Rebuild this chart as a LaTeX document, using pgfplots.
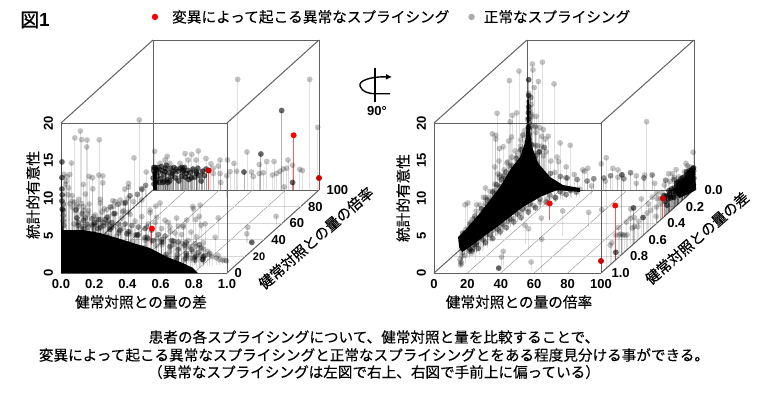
\documentclass[border=0pt]{standalone}
\usepackage{fontspec}
\usepackage{pgfplots}
\usepackage{pgfplotstable}
\usetikzlibrary{arrows.meta}
\pgfplotsset{compat=1.18}
\setmainfont{Liberation Sans}
\newfontfamily\cjk[FakeBold=0.25]{Noto Sans CJK JP}
\newfontfamily\cjkb[FakeBold=1.2]{Noto Sans CJK JP}
\pgfplotstableread{
d r z
.51 100 14.75
.944 100 14.75
.992 100 8.35
.566 100 5.07
.685 100 3.8
.729 100 3.8
.813 100 4.0
.841 100 3.3
.884 100 2.75
.805 100 2.9
.785 100 2.8
.765 100 2.5
.745 100 2.2
.72 100 2.0
.665 100 2.3
.64 100 2.2
.64 100 3.4
.594 100 2.4
.604 100 1.8
.504 100 2.5
.488 100 3.55
.464 100 2.45
.448 100 4.0
.404 100 4
.394 100 3.2
.404 100 2.2
.408 100 1.0
.363 100 2.9
.319 100 4.2
.349 100 3.5
.363 100 2.2
.273 100 5.2
.233 100 4.75
.193 100 4.85
.259 100 4
.213 100 4
.01 100 5.15
.086 100 4.5
.072 100 4
.102 100 3.55
.163 100 3.55
.042 100 3.55
.293 100 2.45
.243 100 2.6
.219 100 1.8
.9 100 2.6
.405 12 19.07
.05 12 17.6
.05 6 17.35
.14 3 17.4
.03 6 14
.05 19 14.7
.147 15 16.1
.08 8 16.9
.412 5 14.8
.2 5 12.5
.23 4 12.5
.235 3 11.7
.39 3 11.6
.39 3 11.1
.22 3 9.5
.31 3 9.2
.4 3 7.5
.27 3 6.6
.355 3 7.8
.72 3 6
.69 3 5.9
.5 3 5.8
.63 5 5
.04 15 7.6
.04 11 7.6
.02 21 6.5
.02 27 6.2
.0 18 4.4
.01 37 3.0
.01 34 2.8
.01 52 3.0
.01 55 2.8
.01 45 3.6
.01 66 2
.01 71 2.1
.01 77 1
.01 66 1
.99 64 4.4
.98 57 1.25
.92 36 1.25
.92 37 2
.72 41 2.8
.65 35 2.5
.6 42 2.9
.55 52 3.3
.45 62 2
.5 90 3
.47 12 7.07
.505 12 7.6
.56 12 5.7
.72 14 7
.735 14 5.6
.68 14 5.5
.785 15 4.9
.84 16 3
.7 15 3.8
.34 8 10.3
.44 8 10.4
.48 6 12.8
.125 8 12
.135 10 11.6
.08 10 10.7
.018 3 12.5
.03 4 12.7
.29 12 8.4
.245 12 8.3
.23 12 7.5
.21 12 7.1
.32 12 8.1
.17 12 8
.125 12 9.9
.08 12 9.2
.04 12 8.5
.42 12 8.4
.53 12 8
.47 12 6.7
.51 12 6.1
.63 12 6
.67 12 4.8
.59 12 4.8
.75 12 3.5
.79 12 2.7
.83 12 1.3
.88 12 1.0
.85 8 1.6
.84 8 2.0
.82 7 2.4
.80 7 2.6
.80 8 1.5
.78 6 2.9
.76 6 2.2
.75 5 3.0
.74 7 1.2
.72 5 2.9
.70 5 3.4
.70 7 1.0
.68 5 2.8
.66 4 3.4
.65 8 .8
.64 4 3.2
.62 6 2.2
.60 3 3.8
.60 9 .7
.58 5 3.2
.56 3 4.2
.55 10 .7
.54 6 3
.52 4 3.9
.50 3 4.5
.50 12 .6
.48 5 3.8
.46 7 2.6
.45 3 4.8
.44 13 .7
.42 4 4.6
.40 3 5.2
.40 6 3.5
.40 14 .6
.38 5 4.6
.36 8 3
.35 3 5.6
.34 15 .7
.32 4 5.4
.30 6 4.2
.30 3 6
.30 17 .8
.28 9 2.8
.26 4 6
.25 18 .7
.24 7 4
.22 3 6.8
.22 20 .8
.20 5 5.8
.20 10 3
.18 3 7.2
.18 22 .8
.16 6 5.6
.15 12 3
.15 25 .7
.14 4 7.4
.12 3 8
.12 8 5.2
.12 28 .9
.10 5 7.4
.10 16 2.8
.10 32 1
.08 3 8.8
.08 10 4.8
.08 36 1
.06 4 9
.06 20 3
.06 42 1.2
.05 3 10
.05 8 6.5
.05 26 2.2
.04 5 9
.04 12 5
.03 3 11
.03 7 8
.03 16 4.2
.03 30 2.4
.02 2 12
.02 4 10
.02 6 8.6
.02 20 4
.02 48 1.4
.01 1.5 13
.01 3 11.5
.01 12 5.2
.01 24 3.2
.01 35 2.6
.01 55 1.8
.90 10 .7
.91 11 .5
.92 12 .4
.93 12 .3
.88 10 .9
.86 9 1.2
.02 12 7
.06 12 6.5
.1 12 7
.14 12 6.4
.18 12 6.8
.22 12 6.2
.26 12 6.6
.3 12 6
.34 12 6.8
.38 12 5.6
.42 12 6.2
.46 12 5.2
.5 12 5.4
.54 12 4.6
.58 12 5.4
.62 12 4
.66 12 3.8
.7 12 3
.74 12 2.6
.78 12 2
}\cloud
\pgfplotstableread{
d r z
.80 10.4 1
.79 11 .6
.75 11.2 1
.74 12 .4
.69 12.1 1
.68 13 .5
.63 12.9 1
.62 14 .4
.56 13.2 1
.55 14.6 .5
.5 13.5 1
.49 15 .4
.44 14.4 1
.43 16 .5
.38 15.2 1
.37 17 .4
.32 15.4 1
.31 18 .5
.26 16.3 1
.25 19 .4
.2 18.9 1
.19 22 .5
.15 22 1
.14 25 .5
.11 25.9 1
.10 29 .5
.09 30.8 1
.08 34 .6
.8 6 3.1
.72 6 3.4
.65 5 3.7
.58 5 3.9
.5 4 4.2
.44 4 4.6
.38 3 4.9
.33 3 5
.28 3 5.5
.22 3 5.7
.17 3 6.1
.12 3 6.7
.08 2 8.2
.0 3 6
.0 6 3.5
.0 14 2.2
.0 20 1.8
.0 24 1.6
.0 30 1.4
.0 36 1.2
.0 40 1.5
.0 46 1.6
.0 50 1.9
.0 58 1.5
.0 62 2.3
.0 70 1.6
.0 75 2
.0 83 1.3
.0 88 1.4
.0 92 1.5
.05 10 5.6
.1 10 5.4
.15 10 5.6
.2 10 5.2
.25 10 5
.3 10 4.6
.35 10 4.4
.4 10 4
.45 10 3.6
.5 10 3.2
.55 10 3
.6 10 2.4
.65 10 2
.7 10 1.5
.75 10 1
.8 10 .7
.005 1.5 7.5
.005 1.5 6.8
.005 1.5 9
.005 1.5 8.2
.03 12 6
.08 12 6
.12 12 5.9
.16 12 5.8
.2 12 5.8
.24 12 5.4
.28 12 5.2
.32 12 5.2
.36 12 5
.4 12 4.8
.44 12 4.6
.48 12 4.4
.52 12 3.8
.56 12 3.6
.6 12 3
.64 12 2.8
.68 12 2.4
.72 12 1.8
.76 12 1.4
.8 12 1
}\fuzz
\pgfplotstableread{
d r z
.95 36 .1
.0 1 14.7
.0 1 12.6
.0 1 11.1
.0 1 9.5
.002 1 10.3
.002 1 8.4
.775 100 10.6
.65 100 4.8
.841 100 1.0
.548 100 2.4
.002 100 1.6
.004 100 2.6
.006 100 .8
.01 100 2.2
.015 100 1.2
.02 100 2.8
.028 100 1.8
.035 100 2.4
.045 100 1.5
.055 100 2.6
.065 100 2.0
.075 100 2.9
.085 100 1.4
.095 100 2.3
.105 100 2.9
.12 100 2.2
.135 100 1.6
.15 100 2.5
.165 100 2.9
.18 100 2.4
.195 100 1.7
.21 100 2.6
.225 100 2.3
.24 100 2.8
.26 100 2.4
.28 100 1.9
.30 100 2.5
.122 100 2.45
.072 100 2.45
.022 100 2.65
.183 100 2.65
.263 100 2.2
.005 100 3
.012 100 3
.02 100 1
.03 100 3
.04 100 1
.05 100 3.1
.06 100 1
.07 100 1.2
.08 100 3.3
.09 100 1
.10 100 1.2
.11 100 1.8
.125 100 3
.14 100 2.8
.155 100 1.2
.17 100 1.8
.175 100 3
.19 100 3
.2 100 2.2
.215 100 1.4
.23 100 1.6
.25 100 1.7
.27 100 2.9
.29 100 1.2
.31 100 1.9
.32 100 2.8
}\darkpts
\pgfplotstableread{
d r z
.847 100 7.3
.361 33.7 2.2
}\redA
\pgfplotstableread{
d r z
1.0 100 1.6
.335 100 2.6
}\redB
\pgfplotsset{
  panel/.style={
    clip=false, 3d box=complete, axis line style={draw=black!62,line width=1pt},
    major tick length=0pt, xmin=0,xmax=1,
    zmin=0,zmax=20, ztick={0,5,10,15,20}, zticklabels={0,5,10,15,20},
    z={(0pt,7.5pt)},
    tick label style={font=\fontsize{13}{13}\selectfont\bfseries},
    z tick label style={rotate=90,anchor=south,yshift=4.5pt,xshift=0pt},
    x tick label style={anchor=north,yshift=-3pt},
    xticklabel pos=lower, zticklabel pos=left,
    label style={font=\fontsize{14.65}{15}\selectfont\cjk},
    grid=none,
  },
  gridA/.style={forget plot,no marks,draw=black!38,line width=.5pt},
  gridB/.style={forget plot,no marks,draw=black!16,line width=1pt},
  gray pts/.style={forget plot,only marks,mark=*,mark size=2.9pt,
    mark options={draw opacity=0,fill=black,fill opacity=.24},
    error bars/.cd,z dir=minus,z explicit,error mark=none,
    error bar style={black,opacity=.12,line width=.9pt}},
  fuzz pts/.style={forget plot,only marks,mark=*,mark size=2.9pt,
    mark options={draw opacity=0,fill=black,fill opacity=.42},
    error bars/.cd,z dir=minus,z explicit,error mark=none,
    error bar style={black,opacity=.2,line width=.9pt}},
  dark pts/.style={forget plot,only marks,mark=*,mark size=2.9pt,
    mark options={draw opacity=0,fill=black,fill opacity=.6},
    error bars/.cd,z dir=minus,z explicit,error mark=none,
    error bar style={black,opacity=.3,line width=.9pt}},
  red pts/.style={forget plot,only marks,mark=*,mark size=3pt,
    mark options={draw opacity=0,fill=#1}},
  red stem/.style={forget plot,no marks,draw=red,draw opacity=.65,line width=1pt},
}
\begin{document}
\begin{tikzpicture}[x=1pt,y=1pt]
\path[use as bounding box,fill=white] (0,0) rectangle (774,392);
% left panel
\begin{axis}[panel,at={(61pt,119pt)},anchor=south west,
  x={(166pt,0pt)},y={(.92pt,.83pt)},ymin=0,ymax=100,
  xtick={0,.2,.4,.6,.8,1},xticklabels={0.0,0.2,0.4,0.6,0.8,1.0},
  ytick={0,20,40,60,80,100},yticklabels={0,{\fontsize{11}{11}\selectfont 20},40,60,80,100},
  y tick label style={anchor=west,xshift=4pt},
  xlabel={健常対照との量の差},ylabel={健常対照との量の倍率},zlabel={統計的有意性},
  xlabel style={at={(axis description cs:.31,-.1245)},anchor=center,rotate=0},
  ylabel style={at={(axis description cs:.988,.15)},anchor=center,rotate=41},
  zlabel style={at={(axis description cs:-.1085,.335)},anchor=center,rotate=0},
  legend columns=2,
  legend style={draw=none,fill=none,font=\fontsize{14.65}{15}\selectfont\cjk,
    at={(axis description cs:1.283,1.099)},anchor=center,
    /tikz/column 1/.style={column sep=12pt},/tikz/column 2/.style={column sep=17pt},/tikz/column 3/.style={column sep=7pt}},
]
\addplot3[gridA] coordinates {(.2,0,0)(.2,100,0)};
\addplot3[gridA] coordinates {(.4,0,0)(.4,100,0)};
\addplot3[gridA] coordinates {(.6,0,0)(.6,100,0)};
\addplot3[gridA] coordinates {(.8,0,0)(.8,100,0)};
\addplot3[gridB] coordinates {(0,20,0)(1,20,0)};
\addplot3[gridB] coordinates {(0,40,0)(1,40,0)};
\addplot3[gridB] coordinates {(0,60,0)(1,60,0)};
\addplot3[gridB] coordinates {(0,80,0)(1,80,0)};
\addplot3[gray pts] table[x=d,y=r,z=z,z error=z]{\cloud};
\addplot3[fuzz pts] table[x=d,y=r,z=z,z error=z]{\fuzz};
\addplot3[dark pts] table[x=d,y=r,z=z,z error=z]{\darkpts};
\addplot3[forget plot,no marks,draw=none,fill=black] coordinates {
(0,0,0)(0,0,7.47)(.012,0,5.73)(.133,0,5.73)(.235,0,5.33)(.337,0,4.67)(.434,0,4.0)(.536,0,3.33)(.639,0,2.13)(.735,0,1.33)(.795,0,.67)(.825,0,0)};
\addplot3[forget plot,no marks,draw=none,fill=black] coordinates {
(0,100,0)(0,100,2.4)(.02,100,2.4)(.025,100,0)};
\addplot3[red stem] coordinates {(.847,100,0)(.847,100,7.3)};
\addplot3[red stem] coordinates {(.361,33.7,0)(.361,33.7,2.2)};
\addplot3[red stem] coordinates {(1.0,100,0)(1.0,100,1.6)};
\addplot3[red stem] coordinates {(.335,100,0)(.335,100,2.6)};
\addplot3[red pts=red] table[x=d,y=r,z=z]{\redA};
\addplot3[red pts={red!80!black}] table[x=d,y=r,z=z]{\redB};
\addlegendimage{only marks,mark=*,mark size=3.2pt,red,mark options={draw opacity=0,fill=red}}
\addlegendentry{変異によって起こる異常なスプライシング}
\addlegendimage{only marks,mark=*,mark size=3.2pt,mark options={draw opacity=0,fill=black!33}}
\addlegendentry{正常なスプライシング}
\end{axis}
% right panel
\begin{axis}[panel,at={(434pt,119pt)},anchor=south west,
  x={(1.67pt,0pt)},y={(93pt,83pt)},xmin=0,xmax=100,ymin=0,ymax=1,
  xtick={0,20,40,60,80,100},xticklabels={0,20,40,60,80,100},
  ytick={0,.2,.4,.6,.8,1},yticklabels={1.0,0.8,0.6,0.4,0.2,0.0},
  y tick label style={anchor=west,xshift=7pt},
  xlabel={健常対照との量の倍率},ylabel={健常対照との量の差},zlabel={統計的有意性},
  xlabel style={at={(axis description cs:.327,-.1245)},anchor=center,rotate=0},
  ylabel style={at={(axis description cs:1.0115,.15)},anchor=center,rotate=41},
  zlabel style={at={(axis description cs:-.119,.322)},anchor=center,rotate=0},
]
\addplot3[gridA] coordinates {(20,0,0)(20,1,0)};
\addplot3[gridA] coordinates {(40,0,0)(40,1,0)};
\addplot3[gridA] coordinates {(60,0,0)(60,1,0)};
\addplot3[gridA] coordinates {(80,0,0)(80,1,0)};
\addplot3[gridB] coordinates {(0,.2,0)(100,.2,0)};
\addplot3[gridB] coordinates {(0,.4,0)(100,.4,0)};
\addplot3[gridB] coordinates {(0,.6,0)(100,.6,0)};
\addplot3[gridB] coordinates {(0,.8,0)(100,.8,0)};
\addplot3[gray pts] table[x=r,y expr=1-\thisrow{d},z=z,z error=z]{\cloud};
\addplot3[fuzz pts] table[x=r,y expr=1-\thisrow{d},z=z,z error=z]{\fuzz};
\addplot3[dark pts] table[x=r,y expr=1-\thisrow{d},z=z,z error=z]{\darkpts};
\addplot3[forget plot,no marks,draw=none,fill=black] coordinates {
(15,0,3.47)(14.4,0,4.8)(19.8,0,6)(27.5,0,8)(33.5,0,9.73)(39.5,0,11.47)(45.5,0,13.73)(51.5,0,15.47)(54.5,0,17.33)(55.7,0,20)(55.7,0,23.07)(56.9,0,23.07)(56.9,0,20)(58.7,0,16.8)(62.3,0,14.67)(69.5,0,12.8)(77.2,0,11.73)(87.4,0,11.33)(87.4,0,10.8)(73.7,0,11.07)(63.5,0,10.13)(53.3,0,8.8)(45.5,0,7.47)(37.7,0,6.13)(29.3,0,4.8)(21.6,0,3.47)(16.8,0,2.8)};
\addplot3[forget plot,no marks,draw=none,fill=black] coordinates {
(143,0,11.07)(149,0,12.4)(152,0,13.7)(156,0,14.1)(157,0,11.07)(147,0,10)};
\addplot3[red stem] coordinates {(100,.153,0)(100,.153,7.3)};
\addplot3[red stem] coordinates {(33.7,.639,0)(33.7,.639,2.2)};
\addplot3[red stem] coordinates {(100,.665,0)(100,.665,2.6)};
\addplot3[red pts=red] table[x=r,y expr=1-\thisrow{d},z=z]{\redA};
\addplot3[red pts={red!80!black}] table[x=r,y expr=1-\thisrow{d},z=z]{\redB};
\end{axis}
% title, rotation glyph, caption
\node[anchor=west,inner sep=0pt] at (20,372) {\fontsize{19}{19}\selectfont\cjkb 図\fontspec{Liberation Sans}\bfseries 1};
\draw[line width=1.4pt] (375,324) -- (375,290);
\draw[line width=1.4pt,-{Latex[length=6pt,width=6pt]}] (390,298.3) -- (375,298.3) .. controls (362,298.3) and (359,306) .. (360,308) .. controls (362,313) and (375,315.5) .. (392,315);
\node[inner sep=0pt] at (377,281) {\fontsize{13}{13}\selectfont\bfseries 90\textdegree};
\node[inner sep=0pt] at (374,55) {\fontsize{14.6}{15}\selectfont\cjk 患者の各スプライシングについて、健常対照と量を比較することで、};
\node[inner sep=0pt] at (374,37) {\fontsize{14.6}{15}\selectfont\cjk 変異によって起こる異常なスプライシングと正常なスプライシングとをある程度見分ける事ができる。};
\node[inner sep=0pt] at (374,20) {\fontsize{14.6}{15}\selectfont\cjk （異常なスプライシングは左図で右上、右図で手前上に偏っている）};
\end{tikzpicture}
\end{document}
